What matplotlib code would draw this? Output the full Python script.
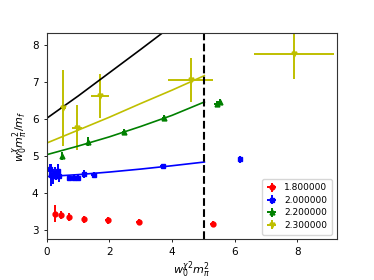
import matplotlib
matplotlib.use("Agg")
import matplotlib.pyplot as plt

# data: (x, y, xerr, yerr)
r_x = [0.265, 0.456, 0.72, 1.19, 1.94, 2.95, 5.31]
r_y = [3.45, 3.41, 3.36, 3.29, 3.27, 3.22, 3.18]
r_xe = [0.06, 0.06, 0.06, 0.07, 0.08, 0.09, 0.1]
r_ye = [0.22, 0.1, 0.1, 0.09, 0.09, 0.08, 0.06]

b_x = [0.1, 0.15, 0.2, 0.25, 0.3, 0.35, 0.4, 0.7, 0.88, 1.0, 1.2, 1.5, 3.7, 6.17]
b_y = [4.65, 4.5, 4.45, 4.55, 4.45, 4.6, 4.45, 4.4, 4.42, 4.42, 4.52, 4.5, 4.72, 4.91]
b_xe = [0.04, 0.04, 0.04, 0.04, 0.04, 0.04, 0.05, 0.06, 0.06, 0.06, 0.07, 0.08, 0.08, 0.08]
b_ye = [0.15, 0.3, 0.2, 0.15, 0.1, 0.2, 0.15, 0.08, 0.08, 0.08, 0.1, 0.08, 0.08, 0.1]

g_x = [0.48, 1.33, 2.45, 3.74, 5.42, 5.52]
g_y = [5.0, 5.39, 5.66, 6.03, 6.40, 6.45]
g_xe = [0.04, 0.05, 0.06, 0.07, 0.08, 0.08]
g_ye = [0.1, 0.12, 0.08, 0.08, 0.08, 0.08]

y_x = [0.53, 0.98, 1.7, 4.59, 7.89]
y_y = [6.3, 5.77, 6.62, 7.06, 7.75]
y_xe = [0.1, 0.16, 0.28, 0.73, 1.28]
y_ye = [1.02, 0.6, 0.6, 0.6, 0.67]

fit_x = [0.05, 1.0, 2.0, 3.0, 4.0, 5.03]
fit_k = [6.05, 6.62, 7.25, 7.88, 8.52, 9.2]
fit_b = [4.45, 4.50, 4.57, 4.65, 4.74, 4.84]
fit_g = [5.05, 5.27, 5.52, 5.80, 6.10, 6.46]
fit_y = [5.37, 5.70, 6.05, 6.42, 6.78, 7.17]

labels = ["1.800000", "2.000000", "2.200000", "2.300000"]
x_cut = 5.03

fig = plt.figure(figsize=(3.74, 2.8), dpi=100)
ax = fig.add_axes([0.125, 0.146, 0.775, 0.736])

ek = dict(ls="none", elinewidth=1.4, ms=3.5)
ax.errorbar(r_x, r_y, xerr=r_xe, yerr=r_ye, fmt="o", color="r", label=labels[0], **ek)
ax.errorbar(b_x, b_y, xerr=b_xe, yerr=b_ye, fmt="s", color="b", label=labels[1], **ek)
ax.errorbar(g_x, g_y, xerr=g_xe, yerr=g_ye, fmt="^", color="g", label=labels[2], **ek)
ax.errorbar(y_x, y_y, xerr=y_xe, yerr=y_ye, fmt="v", color="y", label=labels[3], **ek)

ax.plot(fit_x, fit_k, color="k", lw=1.2)
ax.plot(fit_x, fit_b, color="b", lw=1.2)
ax.plot(fit_x, fit_g, color="g", lw=1.2)
ax.plot(fit_x, fit_y, color="y", lw=1.2)
ax.axvline(x_cut, color="k", ls="--", lw=1.5)

ax.set_xlim(0, 9.25)
ax.set_ylim(2.76, 8.32)
ax.set_xticks([0, 2, 4, 6, 8])
ax.set_yticks([3, 4, 5, 6, 7, 8])
ax.tick_params(labelsize=7.5, length=2.5, width=0.6)
for s in ax.spines.values():
    s.set_linewidth(0.8)
    s.set_color("#333333")
ax.set_xlabel(r"$w_0^{\chi 2} m_\pi^2$", fontsize=8, labelpad=1)
ax.set_ylabel(r"$w_0^{\chi} m_\pi^2/m_f$", fontsize=8, labelpad=1)
ax.legend(loc="lower right", fontsize=6.5, handlelength=1.2, borderpad=0.5, labelspacing=0.4)

fig.savefig("out.png", dpi=100)
